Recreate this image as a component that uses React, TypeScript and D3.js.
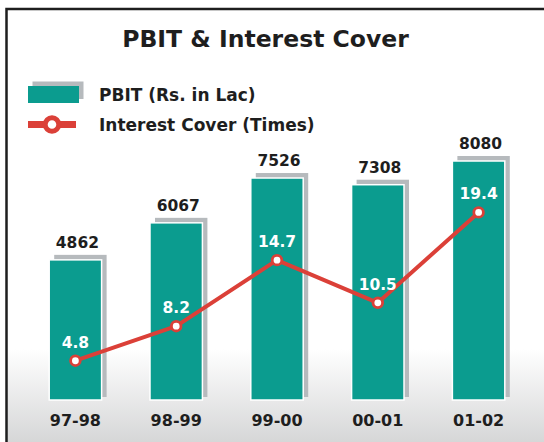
import React from "react";
import * as d3 from "d3";

const categories = ["97-98", "98-99", "99-00", "00-01", "01-02"];
const pbit = [4862, 6067, 7526, 7308, 8080];
const interestCover = [4.8, 8.2, 14.7, 10.5, 19.4];
const coverLabels = ["4.8", "8.2", "14.7", "10.5", "19.4"];

const W = 544;
const H = 442;
const TEAL = "#0b9c8f";
const RED = "#db4038";
const SHADOW = "#b6babd";
const FONT = "Verdana, 'DejaVu Sans', sans-serif";

export default function App() {
  const x = d3.scaleBand<string>().domain(categories).range([24, 530]).paddingInner(0.48).paddingOuter(0.25);
  const y = d3.scaleLinear().domain([300, 8080]).range([400, 161]);
  const y2 = d3.scaleLinear().domain([0, 20]).range([409.5, 206.3]);
  const bw = x.bandwidth();
  const cx = (c: string) => (x(c) as number) + bw / 2;
  const line = d3
    .line<number>()
    .x((_, i) => cx(categories[i]))
    .y((d) => y2(d));

  return (
    <svg width={W} height={H} style={{ position: "absolute", left: 0, top: 0 }}>
      <defs>
        <linearGradient id="bg" x1="0" y1="0" x2="0" y2="1">
          <stop offset="0" stopColor="#ffffff" />
          <stop offset={(325 / H).toString()} stopColor="#ffffff" />
          <stop offset="1" stopColor="#c9cacb" />
        </linearGradient>
      </defs>
      <rect x={0} y={0} width={W} height={H} fill="#ffffff" />
      <rect x={6.5} y={9} width={W + 20} height={H + 20} fill="url(#bg)" stroke="#1e1e1e" strokeWidth={2.5} />
      <text x={265.5} y={47} textAnchor="middle" fontFamily={FONT} fontWeight="bold" fontSize={23.5} fill="#1e1e1e">
        PBIT &amp; Interest Cover
      </text>
      {/* legend */}
      <rect x={32.5} y={81.5} width={51} height={17.5} fill={SHADOW} />
      <rect x={28} y={86} width={51} height={17} fill={TEAL} />
      <text x={99} y={101} fontFamily={FONT} fontWeight="bold" fontSize={17} fill="#1e1e1e">
        PBIT (Rs. in Lac)
      </text>
      <line x1={28} x2={76} y1={124.5} y2={124.5} stroke={RED} strokeWidth={7} />
      <circle cx={52} cy={124.5} r={6.8} fill="#ffffff" stroke={RED} strokeWidth={5} />
      <text x={99} y={131} fontFamily={FONT} fontWeight="bold" fontSize={17} fill="#1e1e1e">
        Interest Cover (Times)
      </text>
      {/* bars */}
      {categories.map((c, i) => {
        const bx = x(c) as number;
        const top = y(pbit[i]);
        return (
          <g key={c}>
            <rect x={bx + 5} y={top - 5} width={bw} height={y(300) - 3 - (top - 5)} fill={SHADOW} />
            <rect x={bx} y={top} width={bw} height={y(300) - top} fill={TEAL} stroke="#ffffff" strokeWidth={1.5} />
            <text x={cx(c) + 2} y={top - 12} textAnchor="middle" fontFamily={FONT} fontWeight="bold" fontSize={15.5} fill="#1e1e1e">
              {pbit[i]}
            </text>
            <text x={cx(c)} y={426} textAnchor="middle" fontFamily={FONT} fontWeight="bold" fontSize={16} fill="#1e1e1e">
              {c}
            </text>
          </g>
        );
      })}
      <path d={line(interestCover) || ""} fill="none" stroke={RED} strokeWidth={4} strokeLinejoin="round" />
      {interestCover.map((v, i) => (
        <g key={i}>
          <circle cx={cx(categories[i])} cy={y2(v)} r={4.8} fill="#ffffff" stroke={RED} strokeWidth={2.8} />
          <text x={cx(categories[i])} y={y2(v) - 13} textAnchor="middle" fontFamily={FONT} fontWeight="bold" fontSize={15.5} fill="#ffffff">
            {coverLabels[i]}
          </text>
        </g>
      ))}
    </svg>
  );
}
